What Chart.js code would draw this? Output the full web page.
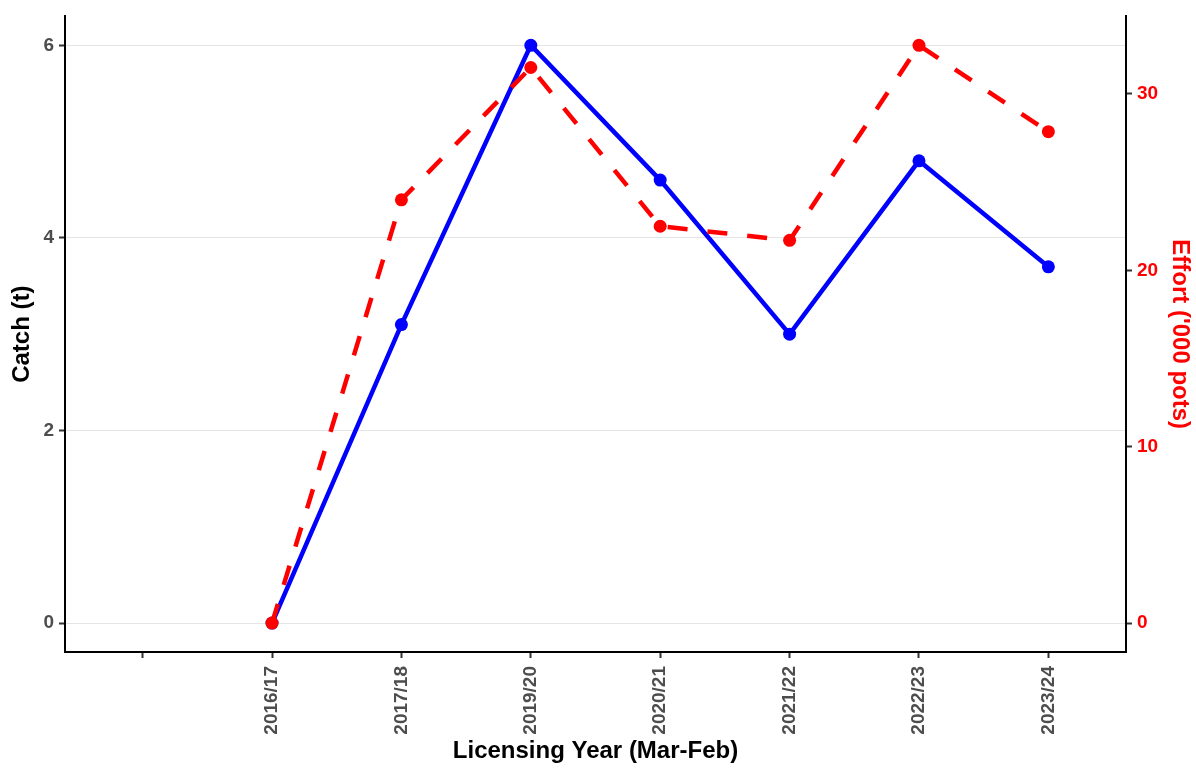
<!DOCTYPE html>
<html>
<head>
<meta charset="utf-8">
<title>Catch and effort by licensing year</title>
<script src="https://cdn.jsdelivr.net/npm/chart.js@4/dist/chart.umd.min.js"></script>
<style>
  html, body { margin: 0; padding: 0; background: #fff; }
  #wrap { width: 1196px; height: 768px; position: relative; }
</style>
</head>
<body>
<div id="wrap"><canvas id="catch-effort"></canvas></div>
<script>
// licensing years (first slot is an empty category)
const years = ['', '2016/17', '2017/18', '2019/20', '2020/21', '2021/22', '2022/23', '2023/24'];
// catch in tonnes
const catchT = [null, 0, 3.1, 6.0, 4.6, 3.0, 4.8, 3.7];
// effort in thousands of pots
const effortK = [null, 0, 24.0, 31.5, 22.5, 21.7, 32.76, 27.86];

const catchTicks = [0, 2, 4, 6];
const effortTicks = [0, 10, 20, 30];

/* ─── HELPERS ─── */
function toPoints(values) {
  return values
    .map((v, i) => ({ x: i + 1, y: v }))
    .filter(p => p.y !== null);
}

const catchMax = Math.max(...catchT.filter(v => v !== null));
const effortMax = Math.max(...effortK.filter(v => v !== null));
const scaleFactor = effortMax / catchMax;   // secondary axis mapping
const pad = catchMax * 0.05;

const tickFont = { family: 'Liberation Sans, Arial, sans-serif', size: 19, weight: 'bold' };
const titleFont = { family: 'Liberation Sans, Arial, sans-serif', size: 24, weight: 'bold' };

/* ─── BUILD CHART ─── */
new Chart(document.getElementById('catch-effort'), {
  type: 'line',
  data: {
    datasets: [
      {
        label: 'Catch (t)',
        data: toPoints(catchT),
        yAxisID: 'y',
        borderColor: '#0000ff',
        backgroundColor: '#0000ff',
        borderWidth: 4.5,
        pointRadius: 6.5,
        pointBorderWidth: 0,
        pointBackgroundColor: '#0000ff',
        tension: 0,
        order: 1
      },
      {
        label: "Effort ('000 pots)",
        data: toPoints(effortK),
        yAxisID: 'y1',
        borderColor: '#ff0000',
        backgroundColor: '#ff0000',
        borderWidth: 4.5,
        borderDash: [20, 20],
        pointRadius: 6.5,
        pointBorderWidth: 0,
        pointBackgroundColor: '#ff0000',
        tension: 0,
        order: 0
      }
    ]
  },
  options: {
    responsive: true,
    maintainAspectRatio: false,
    animation: false,
    layout: { padding: { top: 15, left: 0, right: 0, bottom: 0 } },
    plugins: {
      legend: { display: false },
      tooltip: { enabled: false }
    },
    scales: {
      x: {
        type: 'linear',
        min: 0.4,
        max: years.length + 0.6,
        afterBuildTicks: s => { s.ticks = years.map((_, i) => ({ value: i + 1 })); },
        afterFit: s => { s.height = 116; },
        grid: { drawOnChartArea: false, tickLength: 6, tickColor: '#333', tickWidth: 2 },
        border: { color: '#000', width: 2 },
        ticks: {
          autoSkip: false,
          minRotation: 90,
          maxRotation: 90,
          padding: 8,
          color: '#4d4d4d',
          font: tickFont,
          callback: v => years[v - 1]
        },
        title: {
          display: true,
          text: 'Licensing Year (Mar-Feb)',
          color: '#000',
          font: titleFont,
          padding: { top: 0, bottom: 2 }
        }
      },
      y: {
        position: 'left',
        min: -pad,
        max: catchMax + pad,
        afterBuildTicks: s => { s.ticks = catchTicks.map(v => ({ value: v })); },
        afterFit: s => { s.width = 65; },
        grid: { color: '#e4e4e4', lineWidth: 1, tickLength: 6, tickColor: '#333', tickWidth: 2 },
        border: { color: '#000', width: 2 },
        ticks: { color: '#4d4d4d', font: tickFont, padding: 5 },
        title: {
          display: true,
          text: 'Catch (t)',
          color: '#000',
          font: titleFont,
          padding: { top: 8, bottom: 0 }
        }
      },
      y1: {
        position: 'right',
        min: -pad * scaleFactor,
        max: (catchMax + pad) * scaleFactor,
        afterBuildTicks: s => { s.ticks = effortTicks.map(v => ({ value: v })); },
        afterFit: s => { s.width = 70; },
        grid: { drawOnChartArea: false, tickLength: 6, tickColor: '#333', tickWidth: 2 },
        border: { color: '#000', width: 2 },
        ticks: { color: '#ff0000', font: tickFont, padding: 5 },
        title: {
          display: true,
          text: "Effort ('000 pots)",
          color: '#ff0000',
          font: titleFont,
          padding: { top: 2, bottom: 0 }
        }
      }
    }
  }
});
</script>
</body>
</html>
